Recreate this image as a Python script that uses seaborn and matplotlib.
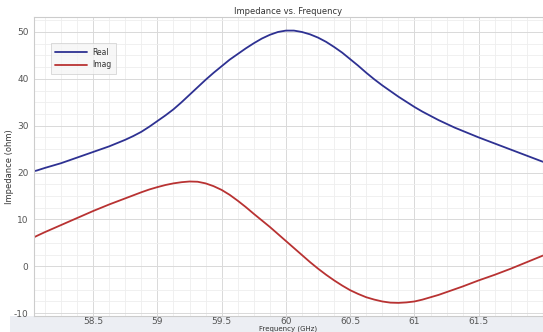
import matplotlib
matplotlib.use("Agg")
import matplotlib.pyplot as plt
from matplotlib.patches import Rectangle
from matplotlib.ticker import MultipleLocator
import pandas as pd
import seaborn as sns

# Values
freq_ghz = [58.04, 58.0625, 58.125, 58.1875, 58.25, 58.3125, 58.375, 58.4375,
            58.5, 58.5625, 58.625, 58.6875, 58.75, 58.8125, 58.875, 58.9375,
            59.0, 59.0625, 59.125, 59.1875, 59.25, 59.3125, 59.375, 59.4375,
            59.5, 59.5625, 59.625, 59.6875, 59.75, 59.8125, 59.875, 59.9375,
            60.0, 60.0625, 60.125, 60.1875, 60.25, 60.3125, 60.375, 60.4375,
            60.5, 60.5625, 60.625, 60.6875, 60.75, 60.8125, 60.875, 60.9375,
            61.0, 61.0625, 61.125, 61.1875, 61.25, 61.3125, 61.375, 61.4375,
            61.5, 61.5625, 61.625, 61.6875, 61.75, 61.8125, 61.875, 61.9375, 62.0]
real_ohm = [20.3, 20.45, 21.0, 21.5, 22.0, 22.6, 23.2, 23.8,
            24.4, 25.0, 25.6, 26.3, 27.0, 27.8, 28.7, 29.8,
            31.0, 32.2, 33.5, 35.0, 36.6, 38.2, 39.8, 41.3,
            42.7, 44.1, 45.3, 46.5, 47.6, 48.6, 49.4, 50.0,
            50.3, 50.3, 50.0, 49.5, 48.8, 47.9, 46.8, 45.6,
            44.2, 42.8, 41.3, 39.9, 38.6, 37.4, 36.2, 35.1,
            34.0, 33.0, 32.1, 31.2, 30.4, 29.6, 28.9, 28.2,
            27.5, 26.85, 26.2, 25.55, 24.9, 24.25, 23.6, 22.95, 22.3]
imag_ohm = [6.2, 6.5, 7.3, 8.05, 8.8, 9.55, 10.3, 11.05,
            11.8, 12.5, 13.2, 13.85, 14.5, 15.15, 15.8, 16.4,
            16.9, 17.35, 17.7, 17.95, 18.1, 18.05, 17.7, 17.1,
            16.3, 15.25, 14.0, 12.65, 11.2, 9.8, 8.4, 6.9,
            5.4, 3.9, 2.4, 0.9, -0.5, -1.8, -3.0, -4.1,
            -5.1, -5.9, -6.6, -7.1, -7.5, -7.75, -7.8, -7.7,
            -7.5, -7.1, -6.6, -6.1, -5.5, -4.9, -4.3, -3.65,
            -3.0, -2.4, -1.8, -1.15, -0.5, 0.2, 0.9, 1.6, 2.3]
series_names = ["Real", "Imag"]
x_ticks = [58.5, 59, 59.5, 60, 60.5, 61, 61.5]
x_tick_labels = ["58.5", "59", "59.5", "60", "60.5", "61", "61.5"]
y_ticks = [-10, 0, 10, 20, 30, 40, 50]

df = pd.DataFrame({
    "Frequency (GHz)": freq_ghz * 2,
    "Impedance (ohm)": real_ohm + imag_ohm,
    "series": [series_names[0]] * len(freq_ghz) + [series_names[1]] * len(freq_ghz),
})

sns.set_style("whitegrid")
plt.rcParams["font.family"] = ["DejaVu Sans"]

fig = plt.figure(figsize=(5.43, 3.32), dpi=100)
fig.patch.set_facecolor("white")
# light band under the plot area
band = Rectangle((10 / 543, 0), 1, 16 / 332, transform=fig.transFigure,
                 facecolor="#eceef3", edgecolor="none", zorder=-5)
fig.patches.append(band)

ax = fig.add_axes([34 / 543, 16 / 332, 509 / 543, 299 / 332])
ax.set_zorder(2)
palette = {"Real": "#2e3192", "Imag": "#b83232"}
sns.lineplot(data=df, x="Frequency (GHz)", y="Impedance (ohm)", hue="series",
             palette=palette, linewidth=1.3, ax=ax)

ax.set_xlim(58.04, 62.0)
ax.set_ylim(-10.6, 53.2)
ax.xaxis.set_minor_locator(MultipleLocator(0.125))
ax.yaxis.set_minor_locator(MultipleLocator(2.5))
ax.set_xticks(x_ticks)
ax.set_xticklabels(x_tick_labels)
ax.set_yticks(y_ticks)
ax.set_yticklabels([str(v) for v in y_ticks])
ax.grid(True, which="major", color="#d9d9d9", linewidth=0.7)
ax.grid(True, which="minor", color="#eeeeee", linewidth=0.6)
ax.set_axisbelow(True)

ax.tick_params(axis="both", which="both", length=0, labelsize=6.5,
               labelcolor="#555555")
ax.tick_params(axis="x", pad=1)
ax.tick_params(axis="y", pad=4)

for sp in ax.spines.values():
    sp.set_color("#cccccc")
    sp.set_linewidth(0.8)

ax.set_title("Impedance vs. Frequency", fontsize=6, color="#333333", pad=2)
ax.set_xlabel("Frequency (GHz)", fontsize=5, color="#333333", labelpad=-1)
ax.set_ylabel("Impedance (ohm)", fontsize=6, color="#333333", labelpad=0)

leg = ax.legend(loc="upper left", bbox_to_anchor=(0.025, 0.925), fontsize=5.5,
                frameon=True, fancybox=False, handlelength=4.2,
                borderpad=0.6, labelspacing=0.45, handletextpad=0.6, title=None)
leg.get_frame().set_edgecolor("#cccccc")
leg.get_frame().set_facecolor("#f5f5f5")
leg.get_frame().set_linewidth(0.6)
for t in leg.get_texts():
    t.set_color("#333333")

fig.savefig("out.png", dpi=100)
